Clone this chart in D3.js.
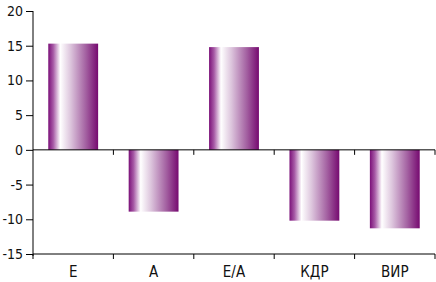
<!DOCTYPE html>
<html>
<head>
<meta charset="utf-8">
<script src="https://cdn.jsdelivr.net/npm/d3@7"></script>
<style>
  body { margin: 0; background: #fff; }
  text { font-family: "Liberation Sans Narrow", "DejaVu Sans Condensed", "Liberation Sans", sans-serif; font-stretch: condensed; font-size: 15px; fill: #111; }
  .y-axis text { font-size: 14px; }
</style>
</head>
<body>
<div id="chart"></div>
<script>
var categories = ["Е", "А", "Е/А", "КДР", "ВИР"];
var values = [15.3, -8.9, 14.8, -10.2, -11.3];
var yTicks = [-15, -10, -5, 0, 5, 10, 15, 20];

var margin = {top: 11, right: 1, bottom: 28, left: 33},
    width = 436 - margin.left - margin.right,
    height = 282 - margin.top - margin.bottom;

var svg = d3.select("#chart")
    .append("svg")
        .attr("width", 436)
        .attr("height", 282)
    .append("g")
        .attr("transform", "translate(" + margin.left + "," + margin.top + ")");

var x = d3.scaleBand()
        .domain(categories)
        .range([0, width])
        .paddingInner(0.38)
        .paddingOuter(0.19);

var y = d3.scaleLinear()
        .domain([-15, 20])
        .range([height, 0]);

// bar gradient
var grad = svg.append("defs").append("linearGradient")
    .attr("id", "barGrad")
    .attr("x1", "0%").attr("x2", "100%").attr("y1", "0%").attr("y2", "0%");
grad.append("stop").attr("offset", "0%").attr("stop-color", "#7a0f78");
grad.append("stop").attr("offset", "10%").attr("stop-color", "#a75aa6");
grad.append("stop").attr("offset", "24%").attr("stop-color", "#ffffff");
grad.append("stop").attr("offset", "45%").attr("stop-color", "#dcc4dc");
grad.append("stop").attr("offset", "75%").attr("stop-color", "#a462a2");
grad.append("stop").attr("offset", "100%").attr("stop-color", "#760a70");

svg.selectAll(".bar")
    .data(values)
    .enter().append("rect")
    .attr("class", "bar")
    .attr("x", function(d, i) { return x(categories[i]); })
    .attr("width", x.bandwidth())
    .attr("y", function(d) { return y(Math.max(0, d)); })
    .attr("height", function(d) { return Math.abs(y(d) - y(0)); })
    .attr("fill", "url(#barGrad)");

// y axis (plain hyphen for negatives, as in the original)
var yAxis = svg.append("g")
    .attr("class", "y-axis")
    .call(d3.axisLeft(y).tickValues(yTicks).tickSize(7).tickPadding(3).tickFormat(function(d) { return String(d); }));
yAxis.select(".domain").attr("d", "M0," + y(20) + "V" + (height + 2));
yAxis.attr("font-family", null).attr("font-size", null);

// zero line with category ticks
var bounds = categories.map(function(c) { return x(c) - x.step() * x.paddingInner() / 2; });
bounds.push(width);

var zero = svg.append("g").attr("transform", "translate(0," + y(0) + ")");
zero.append("line").attr("x1", 0).attr("x2", width).attr("stroke", "#000");
zero.selectAll(".zt").data(bounds.slice(1)).enter().append("line")
    .attr("x1", function(d) { return d; }).attr("x2", function(d) { return d; })
    .attr("y1", 0).attr("y2", 5).attr("stroke", "#000");

// bottom axis
var bottom = svg.append("g").attr("transform", "translate(0," + height + ")");
bottom.append("line").attr("x1", 0).attr("x2", width).attr("stroke", "#000");
bottom.selectAll(".bt").data(bounds).enter().append("line")
    .attr("x1", function(d) { return d; }).attr("x2", function(d) { return d; })
    .attr("y1", 0).attr("y2", 5).attr("stroke", "#000");
bottom.selectAll(".bl").data(categories).enter().append("text")
    .attr("x", function(d) { return x(d) + x.bandwidth() / 2; })
    .attr("y", 23)
    .attr("text-anchor", "middle")
    .text(function(d) { return d; });
</script>
</body>
</html>
